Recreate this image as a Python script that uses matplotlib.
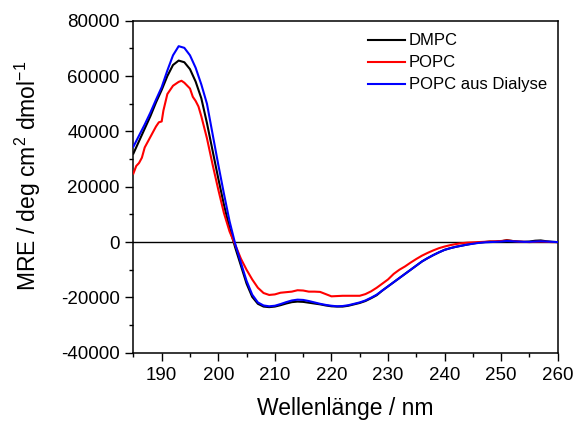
import matplotlib
matplotlib.use("Agg")
import matplotlib.pyplot as plt
from matplotlib.ticker import MultipleLocator

plt.rcParams['font.family'] = ['Liberation Sans', 'DejaVu Sans']
plt.rcParams['mathtext.default'] = 'regular'
plt.rcParams['axes.unicode_minus'] = False

wl_dmpc = [185, 186, 187, 188, 189, 190, 191, 192, 193, 194, 195, 196, 197, 198, 199, 200,
           201, 202, 203, 204, 205, 206, 207, 208, 209, 210, 211, 212, 213, 214, 215, 216,
           217, 218, 219, 220, 221, 222, 223, 224, 225, 226, 227, 228, 229, 230, 231, 232,
           233, 234, 235, 236, 237, 238, 239, 240, 241, 242, 243, 244, 245, 246, 247, 248,
           249, 250, 251, 252, 253, 254, 255, 256, 257, 258, 259, 260]
mre_dmpc = [32000, 36500, 41000, 45500, 50500, 55000, 60000, 64000, 65600, 65000, 62500, 58000,
            52000, 43000, 33000, 23000, 13500, 5000, -2000, -8500, -15000, -19800, -22300, -23300,
            -23500, -23300, -22800, -22200, -21700, -21500, -21600, -21900, -22200, -22500, -22900,
            -23200, -23300, -23300, -23000, -22500, -22000, -21300, -20300, -19200, -17500, -16000,
            -14500, -13000, -11500, -10000, -8500, -7000, -5800, -4700, -3700, -2800, -2200, -1700,
            -1300, -900, -500, -200, 0, 200, 100, 300, 700, 400, 200, 100, 200, 500, 600, 300, 100, 0]

wl_popc = [185, 185.5, 186, 186.5, 187, 188, 189, 189.5, 190, 190.3, 191, 192, 193, 193.5, 194,
           195, 195.5, 196, 196.5, 197, 198, 199, 200, 201, 202, 203, 204, 205, 206, 207, 208,
           209, 210, 211, 212, 213, 214, 215, 216, 217, 218, 219, 220, 221, 222, 223, 224, 225,
           226, 227, 228, 229, 230, 231, 232, 233, 234, 235, 236, 237, 238, 239, 240, 241, 242,
           243, 244, 245, 246, 247, 248, 249, 250, 251, 252, 253, 254, 255, 256, 257, 258, 259, 260]
mre_popc = [24800, 27500, 28600, 30500, 34200, 38000, 41800, 43300, 43600, 47500, 53500, 56500,
            57900, 58300, 57600, 55500, 52500, 51000, 49000, 45500, 37500, 28000, 19000, 10500,
            3800, -1000, -6000, -10000, -13500, -16500, -18400, -19100, -18900, -18300, -18100,
            -17900, -17400, -17500, -17900, -17900, -18000, -18800, -19600, -19500, -19400, -19400,
            -19400, -19400, -18800, -17800, -16500, -15000, -13500, -11500, -10000, -8800, -7400,
            -6100, -4900, -3900, -3000, -2200, -1600, -1100, -700, -400, -200, -100, 0, 100, 200,
            300, 400, 600, 400, 200, 100, 0, 100, 200, 100, 0, 0]

wl_dial = wl_dmpc
mre_dial = [34500, 38500, 42500, 46800, 51500, 56000, 62000, 67500, 70800, 70200, 67500, 63000,
            57000, 50000, 39000, 28000, 17500, 7500, -700, -7500, -14000, -19000, -21800, -22900,
            -23200, -23000, -22400, -21700, -21100, -20800, -20900, -21300, -21800, -22300, -22700,
            -23000, -23200, -23100, -22800, -22300, -21800, -21100, -20100, -19000, -17500, -16000,
            -14500, -13000, -11500, -10000, -8500, -7000, -5800, -4700, -3700, -2800, -2200, -1700,
            -1300, -900, -600, -300, -100, 0, 100, 200, 400, 300, 200, 100, 100, 200, 300, 200, 100, 0]

labels = ["DMPC", "POPC", "POPC aus Dialyse"]
colors = ["#000000", "#ff0000", "#0000ff"]

fig = plt.figure(figsize=(5.75, 4.23), dpi=100)
ax = fig.add_axes([0.232, 0.166, 0.738, 0.785])

ax.axhline(0, color='black', lw=1.0, zorder=1)
ax.plot(wl_dmpc, mre_dmpc, color=colors[0], lw=1.5, label=labels[0], zorder=2)
ax.plot(wl_popc, mre_popc, color=colors[1], lw=1.5, label=labels[1], zorder=3)
ax.plot(wl_dial, mre_dial, color=colors[2], lw=1.5, label=labels[2], zorder=4)

ax.set_xlim(185, 260)
ax.set_ylim(-40000, 80000)
ax.xaxis.set_major_locator(MultipleLocator(10))
ax.xaxis.set_minor_locator(MultipleLocator(5))
ax.yaxis.set_major_locator(MultipleLocator(20000))
ax.yaxis.set_minor_locator(MultipleLocator(10000))
ax.tick_params(which='major', direction='out', length=5.5, width=1, labelsize=13.5, pad=4.5,
               top=False, right=False)
ax.tick_params(which='minor', direction='out', length=3, width=1, top=False, right=False)
for s in ax.spines.values():
    s.set_linewidth(1.1)

ax.set_xlabel("Wellenlänge / nm", fontsize=16.5)
ax.set_ylabel("MRE / deg cm$^{2}$ dmol$^{-1}$", fontsize=16.5)
ax.xaxis.set_label_coords(0.5, -0.133)
ax.yaxis.set_label_coords(-0.213, 0.532)

ax.legend(loc='upper left', bbox_to_anchor=(0.553, 0.962), frameon=False, fontsize=12,
          handlelength=2.2, handletextpad=0.25, labelspacing=0.42, borderpad=0, borderaxespad=0)

fig.savefig("out.png", dpi=100)
